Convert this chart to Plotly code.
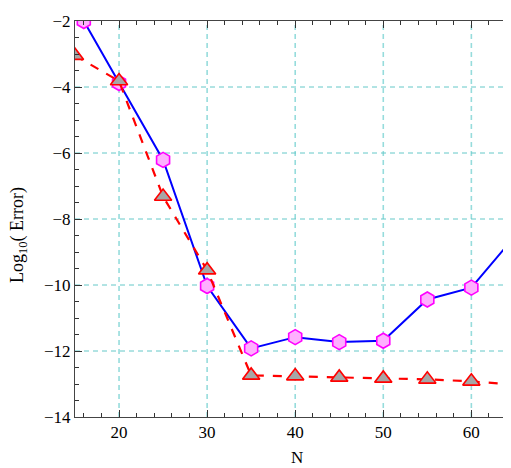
import plotly.graph_objects as go

# Data
n_blue = [16, 20, 25, 30, 35, 40, 45, 50, 55, 60, 65]
err_blue = [-2.0, -3.88, -6.21, -10.03, -11.92, -11.58, -11.73, -11.69, -10.44, -10.08, -8.5]

n_red = [15, 20, 25, 30, 35, 40, 45, 50, 55, 60, 65]
err_red = [-3.05, -3.82, -7.32, -9.55, -12.74, -12.76, -12.8, -12.83, -12.86, -12.92, -13.02]

x_ticks = [20, 30, 40, 50, 60]
y_ticks = [-14, -12, -10, -8, -6, -4, -2]
y_ticktext = ["\u221214", "\u221212", "\u221210", "\u22128", "\u22126", "\u22124", "\u22122"]
y_grid = [-12, -10, -8, -6, -4]

# The page body has an 8px margin, so the figure is offset by 8px
OFF = 8
W, H = 511 - OFF, 468 - OFF
L, R, T, B = 75 - OFF, 0, 21 - OFF, 51
pw, ph = W - L - R, H - T - B

fig = go.Figure()

fig.add_trace(go.Scatter(
    x=n_blue, y=err_blue, mode="lines+markers",
    line=dict(color="#0000FF", width=2),
    marker=dict(symbol="hexagon", size=15, color="#FFB0FF",
                line=dict(color="#FF00FF", width=1.6)),
    showlegend=False,
))

fig.add_trace(go.Scatter(
    x=n_red, y=err_red, mode="lines+markers",
    line=dict(color="#FF0000", width=2.2, dash="dash"),
    marker=dict(symbol="triangle-up", size=15, color="#A6A6A6",
                line=dict(color="#FF0000", width=1.6)),
    showlegend=False,
))

font_family = "Liberation Serif, Times New Roman, serif"
hgrid_color = "rgb(100,200,200)"
vgrid_color = "rgb(150,220,220)"

shapes = []
for xv in x_ticks:
    shapes.append(dict(type="line", xref="x", yref="paper", x0=xv, x1=xv, y0=0, y1=1,
                       layer="below", line=dict(color=vgrid_color, width=1.6, dash="5px,4px")))
for yv in y_grid:
    shapes.append(dict(type="line", xref="paper", yref="y", x0=0, x1=1, y0=yv, y1=yv,
                       layer="below", line=dict(color=hgrid_color, width=1, dash="5px,4px")))

fig.update_layout(
    width=W, height=H,
    margin=dict(l=L, r=R, t=T, b=B),
    paper_bgcolor="white", plot_bgcolor="white",
    font=dict(family=font_family, size=16, color="black"),
    shapes=shapes,
    xaxis=dict(
        range=[15, 64.5], automargin=False,
        tickvals=x_ticks,
        ticks="inside", ticklen=7, tickwidth=1, tickcolor="#333333",
        minor=dict(dtick=2, tick0=0, ticks="inside", ticklen=4, tickcolor="#333333",
                   showgrid=False),
        showline=True, linecolor="#444444", linewidth=1, mirror="ticks",
        showgrid=False, zeroline=False,
        tickfont=dict(family=font_family, size=17),
    ),
    yaxis=dict(
        range=[-14, -2], automargin=False,
        tickvals=y_ticks, ticktext=y_ticktext,
        ticks="inside", ticklen=7, tickwidth=1, tickcolor="#333333",
        minor=dict(dtick=0.5, ticks="inside", ticklen=4, tickcolor="#333333",
                   showgrid=False),
        showline=True, linecolor="#444444", linewidth=1, mirror=False,
        showgrid=False, zeroline=False,
        tickfont=dict(family=font_family, size=17),
    ),
    annotations=[
        dict(text="N", xref="paper", yref="paper",
             x=(297 - 75) / pw, y=-(457 - 417) / ph,
             xanchor="center", yanchor="middle", showarrow=False,
             font=dict(family=font_family, size=17)),
        dict(text="Log<sub>10</sub>( Error)", xref="paper", yref="paper",
             x=(18 - 75) / pw, y=(417 - 235) / ph, textangle=-90,
             xanchor="center", yanchor="middle", showarrow=False,
             font=dict(family=font_family, size=18)),
    ],
)

fig.write_html("out.html")
